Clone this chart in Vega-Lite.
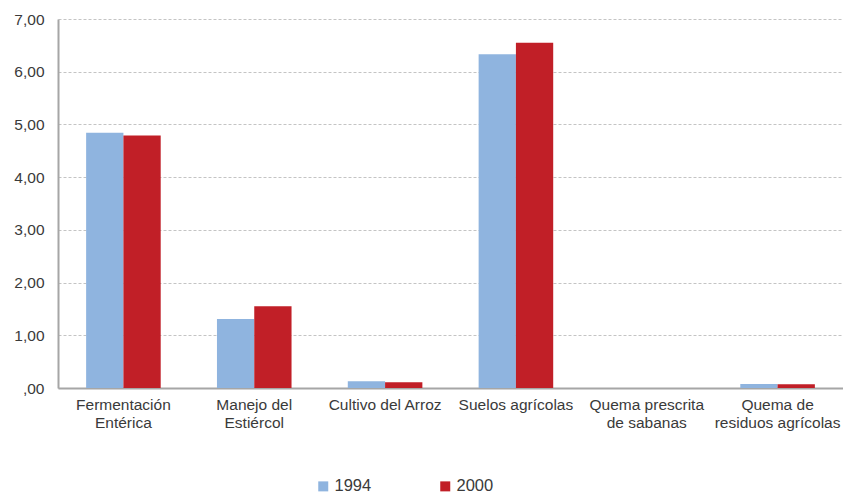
{
  "$schema": "https://vega.github.io/schema/vega-lite/v6.json",
  "width": 785,
  "height": 369,
  "autosize": {"type": "none"},
  "padding": {"left": 58, "top": 19, "right": 0, "bottom": 108},
  "background": "#ffffff",
  "config": {
    "view": {"stroke": null},
    "font": "Liberation Sans",
    "axis": {"labelFont": "Liberation Sans", "labelColor": "#3a3a3a", "labelFontSize": 15.5}
  },
  "data": {
    "values": [
      {"categoria": "Fermentación Entérica", "año": "1994", "valor": 4.84},
      {"categoria": "Fermentación Entérica", "año": "2000", "valor": 4.79},
      {"categoria": "Manejo del Estiércol", "año": "1994", "valor": 1.31},
      {"categoria": "Manejo del Estiércol", "año": "2000", "valor": 1.55},
      {"categoria": "Cultivo del Arroz", "año": "1994", "valor": 0.13},
      {"categoria": "Cultivo del Arroz", "año": "2000", "valor": 0.11},
      {"categoria": "Suelos agrícolas", "año": "1994", "valor": 6.33},
      {"categoria": "Suelos agrícolas", "año": "2000", "valor": 6.55},
      {"categoria": "Quema prescrita de sabanas", "año": "1994", "valor": 0.0},
      {"categoria": "Quema prescrita de sabanas", "año": "2000", "valor": 0.0},
      {"categoria": "Quema de residuos agrícolas", "año": "1994", "valor": 0.075},
      {"categoria": "Quema de residuos agrícolas", "año": "2000", "valor": 0.07}
    ]
  },
  "mark": {"type": "bar"},
  "encoding": {
    "x": {
      "field": "categoria",
      "type": "nominal",
      "sort": null,
      "scale": {"paddingInner": 0.43, "paddingOuter": 0.215},
      "axis": {
        "title": null,
        "labelAngle": 0,
        "ticks": false,
        "domainColor": "#a6a6a6",
        "domainWidth": 2,
        "labelPadding": 9,
        "labelLineHeight": 18,
        "labelLimit": 200,
        "labelExpr": "datum.value == 'Fermentación Entérica' ? ['Fermentación', 'Entérica'] : datum.value == 'Manejo del Estiércol' ? ['Manejo del', 'Estiércol'] : datum.value == 'Quema prescrita de sabanas' ? ['Quema prescrita', 'de sabanas'] : datum.value == 'Quema de residuos agrícolas' ? ['Quema de', 'residuos agrícolas'] : datum.value"
      }
    },
    "xOffset": {"field": "año", "type": "nominal"},
    "y": {
      "field": "valor",
      "type": "quantitative",
      "scale": {"domain": [0, 7], "nice": false},
      "axis": {
        "title": null,
        "values": [0, 1, 2, 3, 4, 5, 6, 7],
        "ticks": false,
        "labelPadding": 14,
        "domainColor": "#a6a6a6",
        "domainWidth": 2,
        "gridColor": "#c4c4c4",
        "gridDash": [3, 2],
        "gridWidth": 1,
        "labelExpr": "datum.value == 0 ? ',00' : replace(format(datum.value, '.2f'), '.', ',')"
      }
    },
    "color": {
      "field": "año",
      "type": "nominal",
      "scale": {"domain": ["1994", "2000"], "range": ["#8FB4DF", "#C11F27"]},
      "legend": {
        "title": null,
        "orient": "none",
        "legendX": 257,
        "legendY": 459,
        "direction": "horizontal",
        "symbolType": "square",
        "symbolSize": 100,
        "symbolStrokeWidth": 0,
        "labelFontSize": 16.5,
        "labelColor": "#3a3a3a",
        "labelOffset": 3,
        "columnPadding": 65
      }
    }
  }
}
